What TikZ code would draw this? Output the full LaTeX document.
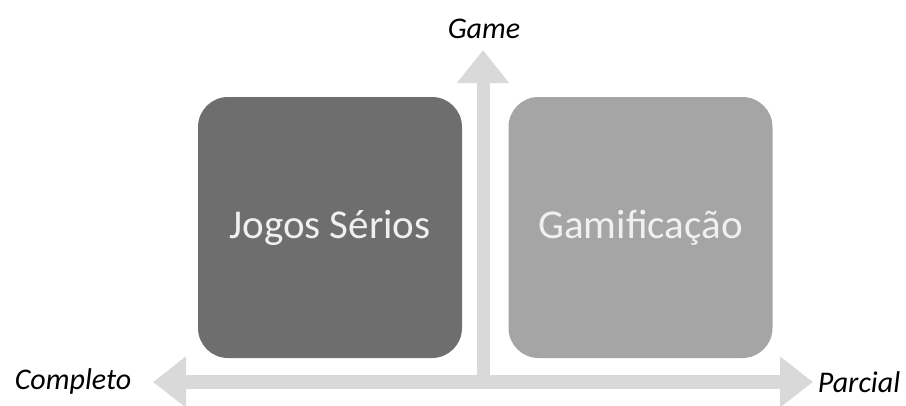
\documentclass[tikz,border=0pt]{standalone}
\usepackage{fontspec}
\setmainfont{Carlito}
\usetikzlibrary{arrows.meta,positioning}
\definecolor{axgray}{RGB}{217,217,217}
\definecolor{boxdark}{RGB}{110,110,110}
\definecolor{boxlight}{RGB}{165,165,165}
\definecolor{boxtext}{RGB}{240,240,240}
\begin{document}
\begin{tikzpicture}[x=1pt, y=-1pt,
  quad/.style={rounded corners=30pt, minimum width=264pt, minimum height=261pt,
    inner sep=0pt, text=boxtext, font=\fontsize{41}{45}\selectfont},
  axlabel/.style={font=\fontsize{30}{33}\selectfont\itshape, inner sep=0pt},
  axis/.style={line width=13.5pt, axgray,
    {Triangle[length=33pt, width=49pt]}-{Triangle[length=33pt, width=49pt]}},
  upaxis/.style={line width=13pt, axgray, -{Triangle[length=33pt, width=50pt]}}]
\useasboundingbox (0,0) rectangle (906,405);
% Axis ends
\coordinate (west) at (153,382);
\coordinate (east) at (813,382);
\coordinate (foot) at (483,389);
\coordinate (apex) at (483,50);
% Axes
\draw[upaxis] (foot) -- (apex);
\draw[axis] (west) -- (east);
% Quadrants
\node[quad, fill=boxdark] (serious) at (330,227.5) {Jogos Sérios};
\node[quad, fill=boxlight] (gamif) at (640.5,227.5) {Gamificação};
% Axis labels
\node[axlabel] (game) at (484,29) {Game};
\node[axlabel] (complete) at (73,381) {Completo};
\node[axlabel] (partial) at (859,382) {Parcial};
\end{tikzpicture}
\end{document}
